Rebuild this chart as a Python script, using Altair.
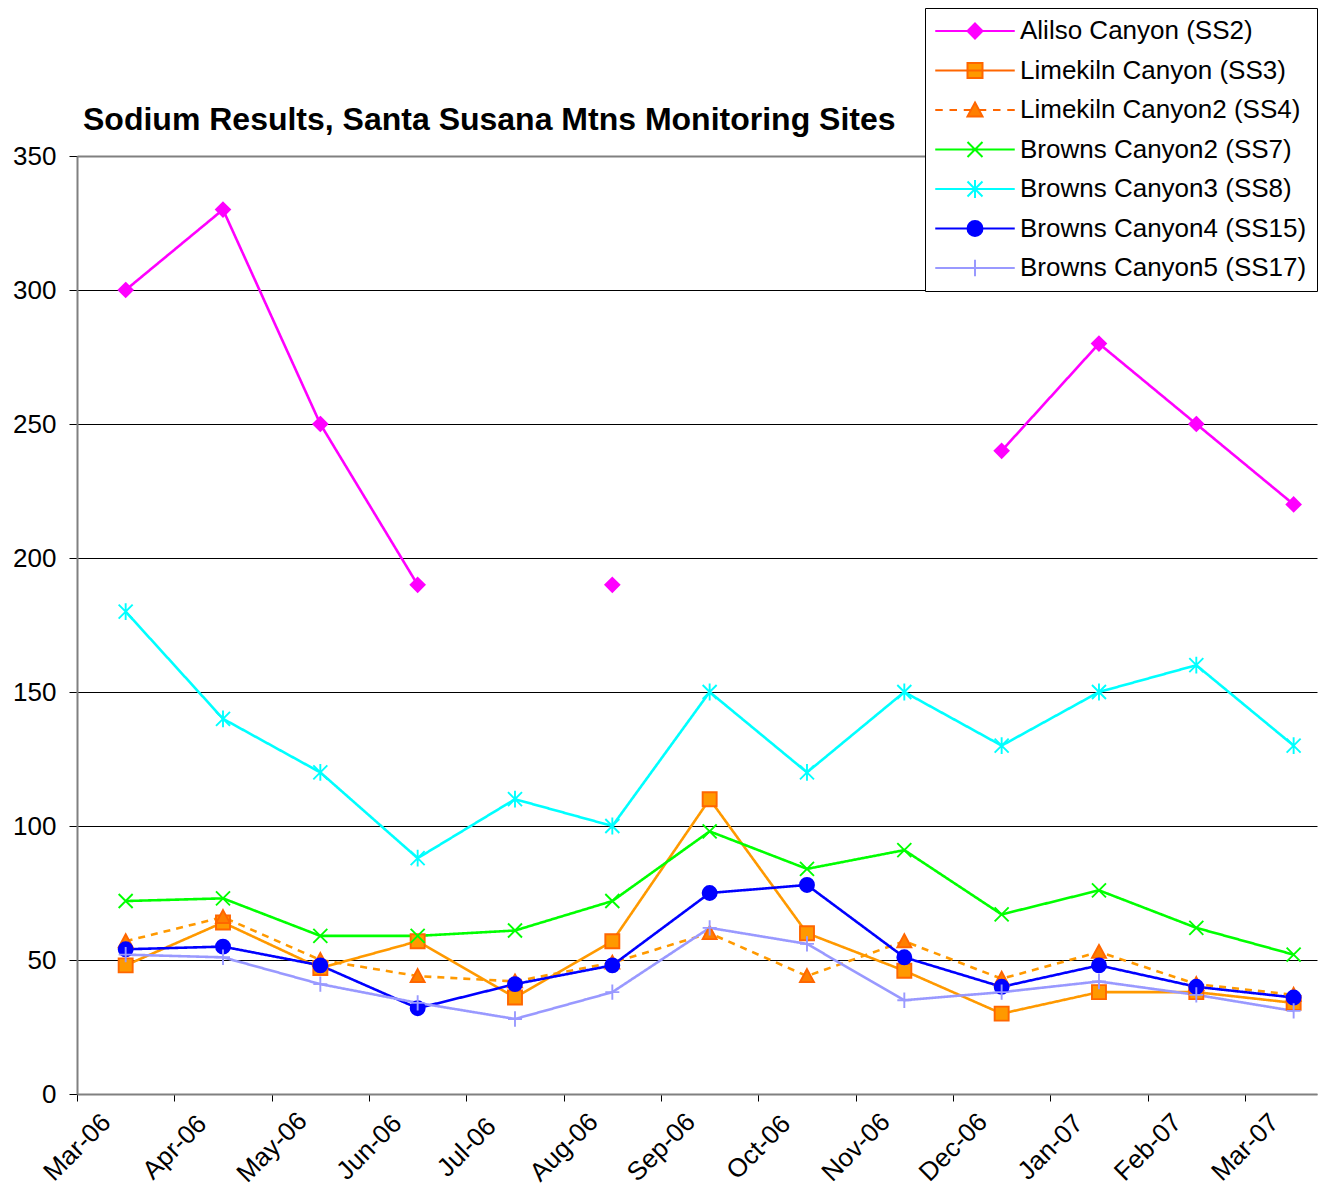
import json
import altair as alt
import pandas as pd

months = ["Mar-06", "Apr-06", "May-06", "Jun-06", "Jul-06", "Aug-06", "Sep-06",
          "Oct-06", "Nov-06", "Dec-06", "Jan-07", "Feb-07", "Mar-07"]
series_names = ["Alilso Canyon (SS2)", "Limekiln Canyon (SS3)", "Limekiln Canyon2 (SS4)",
                "Browns Canyon2 (SS7)", "Browns Canyon3 (SS8)", "Browns Canyon4 (SS15)",
                "Browns Canyon5 (SS17)"]
ss2 = [300, 330, 250, 190, None, 190, None, None, None, 240, 280, 250, 220]
ss3 = [48, 64, 47, 57, 36, 57, 110, 60, 46, 30, 38, 38, 34]
ss4 = [57, 66, 50, 44, 42, 49, 60, 44, 57, 43, 53, 41, 37]
ss7 = [72, 73, 59, 59, 61, 72, 98, 84, 91, 67, 76, 62, 52]
ss8 = [180, 140, 120, 88, 110, 100, 150, 120, 150, 130, 150, 160, 130]
ss15 = [54, 55, 48, 32, 41, 48, 75, 78, 51, 40, 48, 40, 36]
ss17 = [52, 51, 41, 34, 28, 38, 62, 56, 35, 38, 42, 37, 31]
all_series = [ss2, ss3, ss4, ss7, ss8, ss15, ss17]

line_colors = ["#FF00FF", "#FF9900", "#FF9900", "#00FF00", "#00FFFF", "#0000FF", "#9999FF"]
marker_fill = ["#FF00FF", "#FF9900", "#FF7F00", "transparent", "transparent", "#0000FF", "transparent"]
marker_stroke = ["#FF00FF", "#FF6600", "#FF6600", "#00FF00", "#00FFFF", "#0000FF", "#9999FF"]
dashes = [[1, 0], [1, 0], [7, 6], [1, 0], [1, 0], [1, 0], [1, 0]]

diamond = "M0,-1L1,0L0,1L-1,0Z"
square = "M-1,-1L1,-1L1,1L-1,1Z"
triangle = "M0,-1L1,0.85L-1,0.85Z"
xmark = "M-1,-1L1,1M-1,1L1,-1"
star = "M-1,-1L1,1M-1,1L1,-1M0,-1.2L0,1.2"
circle = "M1,0A1,1,0,1,1,-1,0A1,1,0,1,1,1,0Z"
plus = "M-1,0L1,0M0,-1.1L0,1.1"
marker_paths = [diamond, square, triangle, xmark, star, "circle", plus]

solid_seg = "M-5.3,0L5.3,0"
dash_seg = "M-5.3,0L-4.3,0M-3.4,0L-2.4,0M-1.5,0L-0.5,0M0.5,0L1.5,0M2.4,0L3.4,0M4.3,0L5.3,0"
legend_markers = [diamond, square, triangle, xmark, star, circle, plus]
legend_paths = [(dash_seg if i == 2 else solid_seg) + m for i, m in enumerate(legend_markers)]

rows = []
for name, vals in zip(series_names, all_series):
    seg = 0
    for i, v in enumerate(vals):
        if v is None:
            seg += 1
            continue
        rows.append({"series": name, "i": i, "value": v, "seg": seg})
df = pd.DataFrame(rows)

FONT = "Liberation Sans"

x_enc = alt.X(
    "pos:Q",
    scale=alt.Scale(domain=[0, 12.74], nice=False, zero=False),
    axis=alt.Axis(
        title=None, values=list(range(13)), grid=False,
        labelExpr=json.dumps(months) + "[datum.value]",
        labelAngle=315, labelAlign="center", labelBaseline="middle",
        labelPadding=46, labelFont=FONT, labelFontSize=26, labelColor="black",
        labelOverlap=False, labelFlush=False,
        tickSize=7, tickColor="black", tickWidth=1,
        domainColor="#808080", domainWidth=2,
    ),
)
y_enc = alt.Y(
    "value:Q",
    scale=alt.Scale(domain=[0, 350], nice=False),
    axis=alt.Axis(
        title=None, values=list(range(0, 351, 50)), grid=True,
        gridColor={"condition": {"test": "datum.value === 0 || datum.value === 350", "value": "#808080"}, "value": "black"},
        gridWidth={"condition": {"test": "datum.value === 350", "value": 2}, "value": 1},
        labelFont=FONT, labelFontSize=26, labelColor="black", labelPadding=13,
        tickSize=8, tickColor="black", tickWidth=1,
        domainColor="#808080", domainWidth=2,
    ),
)

base = alt.Chart(df).transform_calculate(pos="datum.i + 0.5")

lines = base.mark_line(strokeWidth=2.6).encode(
    x=x_enc, y=y_enc,
    color=alt.Color("series:N", scale=alt.Scale(domain=series_names, range=line_colors), legend=None),
    strokeDash=alt.StrokeDash("series:N", scale=alt.Scale(domain=series_names, range=dashes), legend=None),
    detail="seg:N",
)

points = base.mark_point(size=196, strokeWidth=1.9, opacity=1, filled=False).encode(
    x=x_enc, y=y_enc,
    shape=alt.Shape("series:N", scale=alt.Scale(domain=series_names, range=marker_paths), legend=None),
    fill=alt.Fill("series:N", scale=alt.Scale(domain=series_names, range=marker_fill), legend=None),
    stroke=alt.Stroke("series:N", scale=alt.Scale(domain=series_names, range=marker_stroke), legend=None),
)

leg = alt.Legend(
    title=None, orient="none", legendX=848, legendY=-148,
    labelFont=FONT, labelFontSize=26, labelColor="black", labelLimit=0,
    symbolSize=225, symbolStrokeWidth=2, symbolOpacity=1,
    symbolOffset=27, labelOffset=32, rowPadding=13.5, padding=10,
    strokeColor="black", fillColor="white",
)

legend_layer = base.mark_point(size=225, strokeWidth=2, opacity=0, filled=False).encode(
    x=x_enc, y=y_enc,
    shape=alt.Shape("series:N", scale=alt.Scale(domain=series_names, range=legend_paths), legend=leg),
    fill=alt.Fill("series:N", scale=alt.Scale(domain=series_names, range=marker_fill), legend=leg),
    stroke=alt.Stroke("series:N", scale=alt.Scale(domain=series_names, range=marker_stroke), legend=leg),
)

chart = alt.layer(lines, points, legend_layer).resolve_scale(
    shape="independent", fill="independent", stroke="independent"
).properties(
    width=1240, height=938,
    autosize=alt.AutoSizeParams(type="none"),
    padding={"left": 69, "top": 148, "right": 2, "bottom": 94},
    title=alt.Title(
        "Sodium Results, Santa Susana Mtns Monitoring Sites",
        anchor="start", frame="group", font=FONT, fontSize=32, fontWeight="bold",
        color="black", baseline="alphabetic", offset=-154, dx=6,
    ),
    background="white",
).configure_view(stroke=None)

chart.save("out.html", embed_options={"renderer": "svg", "actions": False})
